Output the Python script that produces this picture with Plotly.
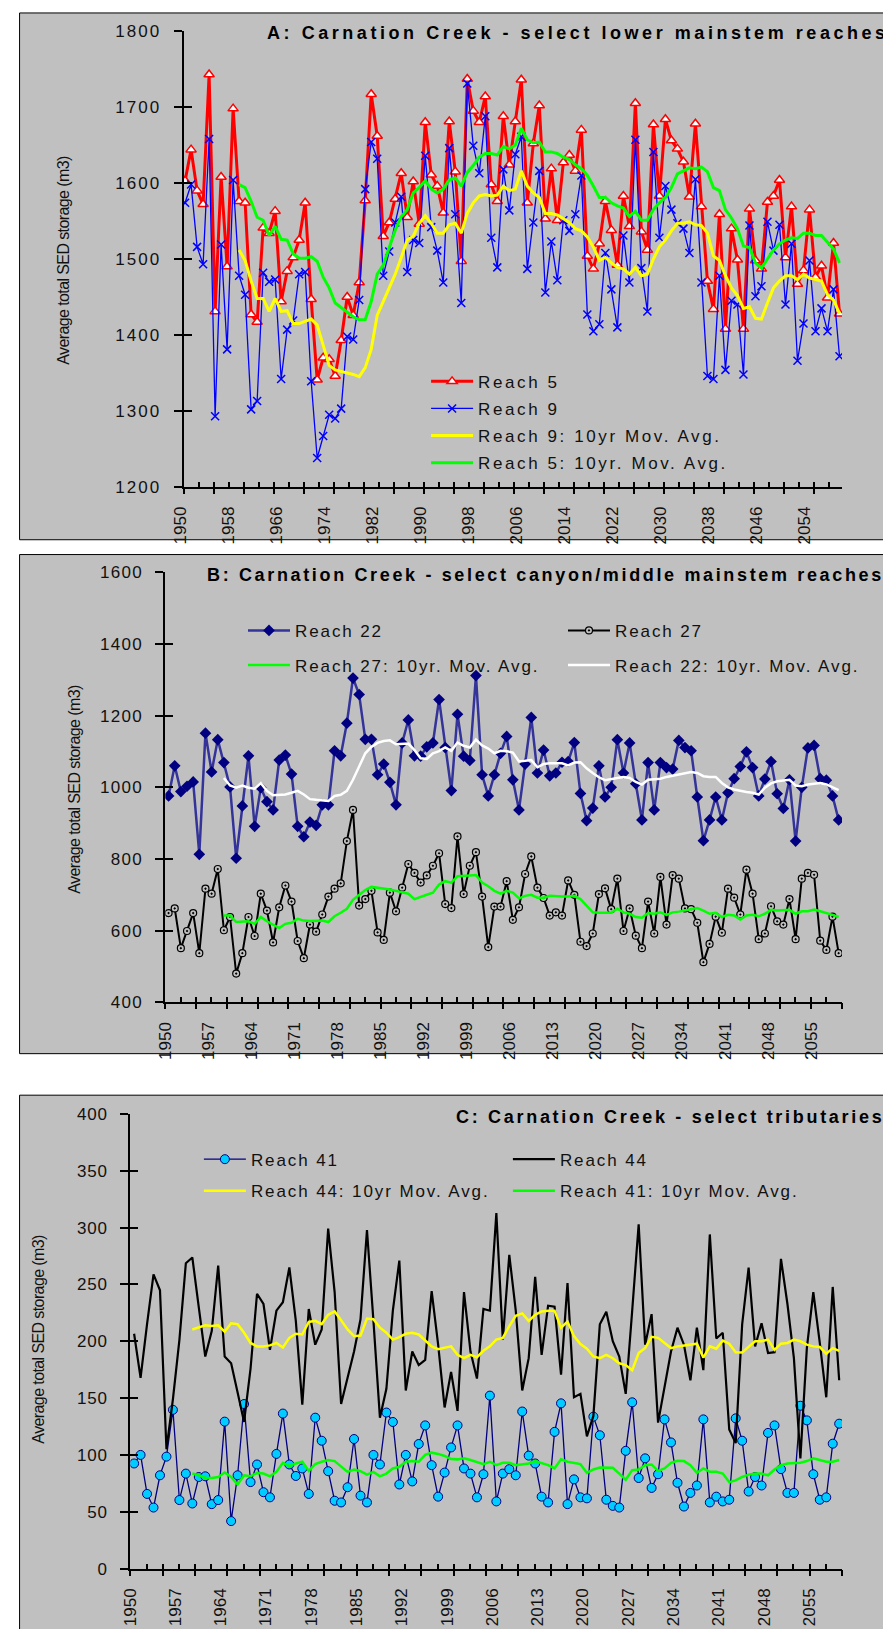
import plotly.graph_objects as go

W, H = 883, 1629

YEARS = list(range(1950, 2060))
MA_YEARS = list(range(1959, 2060))

# ---------------- Panel A ----------------
REACH5 = [1603, 1644, 1590, 1572, 1743, 1431, 1608, 1490, 1698, 1576,
          1574, 1427, 1417, 1541, 1534, 1563, 1444, 1484, 1502, 1525,
          1574, 1447, 1341, 1370, 1368, 1346, 1393, 1450, 1426, 1469,
          1577, 1717, 1662, 1530, 1548, 1579, 1613, 1555, 1602, 1546,
          1680, 1611, 1596, 1561, 1681, 1615, 1497, 1737, 1695, 1680,
          1714, 1598, 1576, 1688, 1624, 1681, 1736, 1574, 1652, 1702,
          1553, 1619, 1551, 1627, 1637, 1616, 1670, 1504, 1487, 1520,
          1576, 1538, 1492, 1583, 1543, 1705, 1536, 1512, 1677, 1583,
          1684, 1656, 1645, 1628, 1582, 1678, 1569, 1471, 1434, 1559,
          1408, 1540, 1499, 1408, 1566, 1498, 1487, 1575, 1583, 1604,
          1502, 1569, 1467, 1485, 1565, 1476, 1491, 1449, 1521, 1428]
REACH9 = [1574, 1598, 1516, 1493, 1658, 1293, 1519, 1381, 1604, 1478,
          1453, 1302, 1313, 1482, 1470, 1473, 1342, 1407, 1419, 1480,
          1483, 1339, 1238, 1267, 1295, 1290, 1303, 1398, 1394, 1446,
          1592, 1654, 1632, 1478, 1510, 1548, 1582, 1483, 1525, 1521,
          1636, 1542, 1511, 1469, 1646, 1559, 1442, 1731, 1649, 1613,
          1688, 1528, 1489, 1618, 1564, 1638, 1661, 1487, 1548, 1616,
          1456, 1523, 1472, 1551, 1537, 1559, 1610, 1427, 1405, 1414,
          1508, 1460, 1410, 1531, 1469, 1657, 1488, 1431, 1641, 1528,
          1596, 1565, 1547, 1540, 1508, 1605, 1469, 1346, 1342, 1478,
          1354, 1445, 1440, 1348, 1544, 1451, 1464, 1549, 1511, 1545,
          1440, 1520, 1366, 1415, 1498, 1405, 1435, 1405, 1460, 1372]
REACH5_MA = [1598, 1594, 1576, 1555, 1551, 1531, 1543, 1526, 1525, 1507, 1501,
             1501, 1503, 1497, 1476, 1462, 1442, 1436, 1431, 1424, 1420,
             1420, 1444, 1480, 1492, 1516, 1538, 1556, 1565, 1587, 1594,
             1603, 1592, 1587, 1592, 1604, 1607, 1596, 1614, 1623, 1634,
             1639, 1639, 1637, 1648, 1645, 1650, 1672, 1657, 1653, 1654,
             1641, 1641, 1639, 1634, 1631, 1624, 1619, 1610, 1596, 1581,
             1581, 1574, 1570, 1567, 1556, 1563, 1551, 1551, 1565, 1574,
             1581, 1594, 1612, 1616, 1620, 1619, 1621, 1615, 1594, 1590,
             1565, 1554, 1540, 1517, 1515, 1495, 1488, 1500, 1512, 1520,
             1525, 1528, 1527, 1534, 1534, 1531, 1531, 1522, 1513, 1495]
REACH9_MA = [1512, 1498, 1471, 1448, 1448, 1431, 1448, 1431, 1432, 1415, 1415,
             1418, 1421, 1413, 1388, 1360, 1354, 1352, 1351, 1348, 1345,
             1357, 1381, 1426, 1444, 1462, 1480, 1502, 1525, 1530, 1547,
             1557, 1547, 1534, 1534, 1545, 1547, 1534, 1560, 1574, 1583,
             1585, 1583, 1584, 1596, 1590, 1592, 1616, 1596, 1587, 1581,
             1560, 1560, 1558, 1553, 1548, 1540, 1537, 1529, 1516, 1498,
             1502, 1495, 1489, 1487, 1480, 1489, 1478, 1480, 1500, 1516,
             1525, 1537, 1547, 1547, 1549, 1545, 1544, 1534, 1504, 1498,
             1478, 1462, 1452, 1435, 1437, 1422, 1421, 1442, 1462, 1471,
             1478, 1478, 1473, 1480, 1475, 1473, 1471, 1453, 1446, 1428]

# ---------------- Panel B ----------------
REACH22 = [976, 1060, 988, 1003, 1015, 813, 1151, 1043, 1133, 1069,
           1001, 802, 948, 1088, 891, 999, 960, 937, 1076, 1090,
           1037, 891, 862, 903, 894, 951, 951, 1102, 1088, 1179,
           1305, 1259, 1134, 1134, 1035, 1065, 1014, 951, 1124, 1188,
           1088, 1087, 1113, 1124, 1245, 1111, 991, 1204, 1087, 1075,
           1312, 1035, 976, 1035, 1095, 1142, 1021, 937, 1065, 1195,
           1040, 1104, 1032, 1040, 1070, 1072, 1125, 983, 907, 942,
           1060, 973, 1000, 1133, 1040, 1124, 1010, 909, 1069, 937,
           1069, 1055, 1051, 1131, 1111, 1102, 973, 851, 909, 973,
           909, 985, 1024, 1058, 1099, 1055, 976, 1023, 1072, 982,
           941, 1021, 850, 1000, 1110, 1117, 1024, 1020, 976, 909]
REACH27 = [649, 662, 551, 599, 649, 537, 717, 703, 772, 601,
           638, 480, 537, 638, 585, 703, 656, 567, 665, 726,
           681, 571, 523, 617, 597, 645, 695, 717, 732, 850,
           937, 670, 688, 711, 595, 574, 706, 654, 720, 786,
           761, 734, 754, 781, 816, 674, 663, 863, 702, 781,
           819, 695, 554, 667, 667, 738, 630, 665, 758, 807,
           720, 691, 642, 651, 642, 740, 700, 569, 557, 592,
           702, 718, 660, 745, 599, 662, 586, 551, 681, 592,
           750, 617, 755, 745, 662, 660, 622, 512, 563, 639,
           594, 717, 692, 645, 770, 703, 576, 592, 668, 626,
           617, 688, 576, 745, 761, 756, 572, 546, 639, 537]
REACH27_MA = [642, 642, 624, 624, 626, 619, 638, 626, 617, 607, 619,
              622, 633, 628, 627, 628, 628, 624, 640, 650, 661,
              686, 699, 713, 722, 720, 718, 715, 711, 706, 703,
              688, 695, 700, 706, 729, 738, 734, 752, 752, 754,
              755, 734, 724, 711, 703, 711, 706, 690, 697, 700,
              692, 692, 697, 695, 695, 695, 697, 688, 670, 651,
              650, 650, 650, 661, 651, 647, 638, 636, 649, 647,
              651, 644, 651, 653, 656, 659, 663, 656, 647, 650,
              638, 644, 642, 631, 642, 644, 640, 647, 658, 656,
              658, 658, 647, 654, 654, 659, 654, 650, 644, 638]
REACH22_MA = [1026, 1005, 999, 1005, 999, 996, 1012, 990, 978, 979, 980,
              985, 990, 980, 967, 965, 964, 962, 976, 979, 990,
              1021, 1058, 1095, 1113, 1124, 1129, 1131, 1120, 1122, 1122,
              1104, 1081, 1079, 1095, 1101, 1111, 1102, 1125, 1116, 1111,
              1133, 1117, 1108, 1095, 1102, 1101, 1097, 1072, 1074, 1076,
              1056, 1065, 1067, 1067, 1067, 1061, 1069, 1070, 1053, 1040,
              1028, 1020, 1024, 1026, 1029, 1026, 1015, 1008, 1021, 1023,
              1024, 1029, 1033, 1037, 1040, 1043, 1040, 1031, 1029, 1029,
              1012, 1000, 994, 990, 987, 985, 980, 999, 1011, 1017,
              1019, 1021, 1005, 1003, 1008, 1010, 1012, 1008, 999, 992]

# ---------------- Panel C ----------------
REACH41 = [92.5, 100, 65.7, 53.7, 82.1, 98.5, 139.7, 60.3, 83.6, 57.3,
           80.6, 81.2, 56.7, 60.3, 129.3, 41.8, 82.1, 144.8, 76.1, 91.6,
           67.2, 62.7, 100.9, 136.4, 91.6, 81.5, 88.1, 65.7, 132.8, 112.5,
           85.7, 59.7, 58.2, 71.6, 114, 64.2, 58.2, 100, 91.6, 137.3,
           129, 74, 100, 76.7, 109.6, 126, 91, 63.3, 84.5, 106.6,
           126, 88.1, 83.6, 62.7, 83, 152.2, 59.1, 83.6, 87.5, 82.1,
           138.2, 99.4, 92.5, 63.3, 58.2, 120.3, 145.4, 56.7, 78.5, 62.7,
           61.8, 133.7, 117.3, 60.6, 55.2, 53.7, 103.6, 146.3, 79.7, 97,
           71, 83, 131.3, 111, 75.5, 54.6, 66.6, 73.1, 131.3, 58.2,
           63.3, 59.1, 60.6, 132.2, 112.5, 67.8, 80.6, 73.1, 119.4, 126,
           87.5, 66.6, 66.6, 143.3, 130.4, 83, 60.6, 62.7, 109.9, 127.5]
REACH44 = [206.6, 167.8, 215, 258.8, 244.8, 105, 149, 201, 268.7, 273.7,
           229.9, 186.6, 209, 266.6, 186.6, 180.6, 155, 129, 176, 241.8,
           232.8, 192.5, 226.9, 234.3, 265, 217.9, 144.2, 228.4, 197, 210.4,
           299.1, 243.3, 144.8, 167.2, 191, 219.4, 297.9, 217.9, 132.8, 158.2,
           226.9, 271, 156.7, 191, 179.1, 183.6, 244.2, 197, 141.8, 173.1,
           138.8, 243.3, 191, 167.2, 228.4, 226.9, 312.8, 201.5, 276.1, 226.9,
           156.7, 185.1, 256.7, 188.1, 231.3, 230.4, 170.7, 251.3, 150.7, 153.7,
           116.4, 134.3, 214.9, 226, 200, 186.6, 153.7, 226.9, 303, 197,
           223.9, 128.4, 158.2, 191, 211.9, 197, 165.7, 211.9, 174.6, 294,
           202.4, 207.5, 122.4, 110.4, 214.9, 264.8, 195.5, 215.8, 189.6, 190.4,
           272.5, 232.8, 185.1, 97, 194, 243.3, 198.5, 150.7, 247.8, 165.7]
REACH44_MA = [210.4, 212, 214, 213.4, 214, 208.4, 215.8, 215, 207.5, 198.5, 195.5,
              195.5, 196.4, 198.5, 194.6, 203, 206.6, 206, 217, 218, 215,
              223.3, 226.3, 218.5, 210.4, 204.5, 205, 220, 219.4, 212, 207.5,
              201.5, 203.6, 206.6, 207.5, 206, 201, 195.5, 193.1, 194, 195.5,
              188.1, 185.1, 188.1, 186, 191.6, 195.5, 201.5, 203, 213.4, 222.4,
              224.5, 217.9, 223.3, 226.3, 226.9, 226.9, 211.9, 217.3, 204.5, 197.6,
              193.4, 186.6, 185.1, 188.1, 185.1, 180.6, 179.1, 174.6, 189.6, 194,
              203.9, 203, 198.5, 194, 195.5, 196.1, 197, 197.9, 185.7, 195.5,
              193.4, 200.6, 197.9, 190.4, 190.1, 195.5, 200, 200, 201.5, 192.5,
              197.9, 198.5, 201.5, 200, 197, 195.5, 194.9, 189, 194, 191.6]
REACH41_MA = [83.6, 82.1, 79.7, 79.7, 80.6, 84.5, 80.6, 74, 82.1, 81.2, 84.2,
              83.6, 81.2, 85.1, 93.1, 90.1, 92.5, 94, 86, 91.9, 94,
              95.5, 94.6, 90.1, 85.1, 87.2, 85.7, 82.7, 85.1, 81.2, 83.6,
              88.1, 89.6, 94, 94.6, 94, 100, 102, 100.9, 99.1, 96.4,
              96.1, 97, 95.5, 94, 91.9, 94, 91, 93.1, 93.1, 91,
              91.9, 92.5, 94.6, 93.1, 91, 88.1, 96.1, 94, 93.1, 91.9,
              84.2, 87.2, 89, 89, 88.7, 83.6, 78.2, 86.6, 87.2, 91,
              91.6, 86, 88.1, 93.1, 94.9, 94.6, 91, 84.2, 88.1, 85.1,
              85.1, 83.6, 76.1, 77.6, 80.6, 82.7, 83.6, 83.6, 82.1, 87.2,
              91, 92.5, 92.5, 93.1, 94.6, 97, 95.5, 94, 94, 95.5]

# tick labels
A_XLABELS = list(range(1950, 2060, 8))
B_XLABELS = list(range(1950, 2060, 7))
C_XLABELS = list(range(1950, 2060, 7))
A_YTICKS = list(range(1200, 1801, 100))
B_YTICKS = list(range(400, 1601, 200))
C_YTICKS = list(range(0, 401, 50))

TITLES = ["A: Carnation Creek - select lower mainstem reaches",
          "B: Carnation Creek - select canyon/middle mainstem reaches",
          "C: Carnation Creek - select tributaries"]
YTITLE = "Average total SED storage (m3)"

FONT = "Liberation Sans, Arial, Helvetica, sans-serif"
NARROW = "Liberation Sans Narrow, Arial Narrow, Liberation Sans, Arial, sans-serif"
GREY = "#C0C0C0"


def px(xp):
    return xp / W


def py(yp):
    return 1 - yp / H


# layout geometry per panel (pixels)
PANELS = [
    dict(ax=181.7, top=22.4, bot=483.5, x0=1949.75, ppy=6.395, yr=(1200, 1800),
         yt=A_YTICKS, xl=A_XLABELS, lshift=-5, box=(4, 537), title_x=268, title_y=24,
         yt_x=53, yt_y=255),
    dict(ax=162.3, top=570.0, bot=1005.0, x0=1949.48, ppy=6.548, yr=(400, 1600),
         yt=B_YTICKS, xl=B_XLABELS, lshift=-3, box=(552, 1057), title_x=205, title_y=573,
         yt_x=66, yt_y=790),
    dict(ax=125.0, top=1118.0, bot=1578.0, x0=1949.42, ppy=6.89, yr=(0, 400),
         yt=C_YTICKS, xl=C_XLABELS, lshift=-4, box=(1099, 1700), title_x=470, title_y=1121,
         yt_x=27, yt_y=1346),
]

fig = go.Figure()

# ---- traces, panel A
fig.add_trace(go.Scatter(x=YEARS, y=REACH5, name="Reach 5", mode="lines+markers",
                         line=dict(color="#FF0000", width=3),
                         marker=dict(symbol="triangle-up", size=9, color="white",
                                     line=dict(color="#FF0000", width=1.5)),
                         xaxis="x", yaxis="y", legend="legend", legendgroup="a1"))
fig.add_trace(go.Scatter(x=YEARS, y=REACH9, name="Reach 9", mode="lines+markers",
                         line=dict(color="#0000FF", width=1.3),
                         marker=dict(symbol="x-thin", size=8, color="#0000FF",
                                     line=dict(color="#0000FF", width=1.5)),
                         xaxis="x", yaxis="y", legend="legend", legendgroup="a2"))
fig.add_trace(go.Scatter(x=MA_YEARS, y=REACH9_MA, name="Reach 9: 10yr Mov. Avg.", mode="lines",
                         line=dict(color="#FFFF00", width=3), xaxis="x", yaxis="y",
                         legend="legend", legendgroup="a3"))
fig.add_trace(go.Scatter(x=MA_YEARS, y=REACH5_MA, name="Reach 5: 10yr. Mov. Avg.", mode="lines",
                         line=dict(color="#00FF00", width=3), xaxis="x", yaxis="y",
                         legend="legend", legendgroup="a4"))

# ---- traces, panel B
fig.add_trace(go.Scatter(x=YEARS, y=REACH22, name="Reach 22", mode="lines+markers",
                         line=dict(color="#333399", width=2.5),
                         marker=dict(symbol="diamond", size=9, color="#000080"),
                         xaxis="x2", yaxis="y2", legend="legend2"))
fig.add_trace(go.Scatter(x=YEARS, y=REACH27, name="Reach 27", mode="lines+markers",
                         line=dict(color="#000000", width=2),
                         marker=dict(symbol="circle-dot", size=7, color=GREY,
                                     line=dict(color="#000000", width=1.2)),
                         xaxis="x2", yaxis="y2", legend="legend2"))
fig.add_trace(go.Scatter(x=MA_YEARS, y=REACH27_MA, name="Reach 27: 10yr. Mov. Avg.", mode="lines",
                         line=dict(color="#00FF00", width=2.5), xaxis="x2", yaxis="y2", legend="legend4"))
fig.add_trace(go.Scatter(x=MA_YEARS, y=REACH22_MA, name="Reach 22: 10yr. Mov. Avg.", mode="lines",
                         line=dict(color="#FFFFFF", width=2.5), xaxis="x2", yaxis="y2", legend="legend4"))

# ---- traces, panel C
fig.add_trace(go.Scatter(x=YEARS, y=REACH41, name="Reach 41", mode="lines+markers",
                         line=dict(color="#000080", width=1.3),
                         marker=dict(symbol="circle", size=9, color="#00CCFF",
                                     line=dict(color="#000080", width=1)),
                         xaxis="x3", yaxis="y3", legend="legend3"))
fig.add_trace(go.Scatter(x=YEARS, y=REACH44, name="Reach 44", mode="lines",
                         line=dict(color="#000000", width=2.2),
                         xaxis="x3", yaxis="y3", legend="legend3"))
fig.add_trace(go.Scatter(x=MA_YEARS, y=REACH44_MA, name="Reach 44: 10yr Mov. Avg.", mode="lines",
                         line=dict(color="#FFFF00", width=2.5), xaxis="x3", yaxis="y3", legend="legend5"))
fig.add_trace(go.Scatter(x=MA_YEARS, y=REACH41_MA, name="Reach 41: 10yr Mov. Avg.", mode="lines",
                         line=dict(color="#00FF00", width=2.5), xaxis="x3", yaxis="y3", legend="legend5"))

layout = dict(width=W, height=H, margin=dict(l=0, r=0, t=0, b=0),
              paper_bgcolor="white", plot_bgcolor="rgba(0,0,0,0)",
              font=dict(family=FONT, color="#000000"), showlegend=True,
              shapes=[], annotations=[])

for i, p in enumerate(PANELS):
    n = i + 1
    sx = "" if n == 1 else str(n)
    xr = [p["x0"], p["x0"] + (W - p["ax"]) / p["ppy"]]
    dom_x = [px(p["ax"]), 1]
    dom_y = [py(p["bot"]), py(p["top"])]
    major = [p["x0"] + 5 * k for k in range(24)]
    minor = [p["x0"] + 2.5 * k for k in range(48)]
    layout["xaxis" + sx] = dict(domain=dom_x, anchor="y" + sx, range=xr,
                                tickvals=p["xl"], ticktext=[str(v) for v in p["xl"]],
                                ticklabelshift=p["lshift"], ticklabelstandoff=11,
                                tickangle=-90, ticks="", showline=True, linecolor="black",
                                linewidth=2, showgrid=False, zeroline=False,
                                tickfont=dict(size=17, family=FONT, color="#111"))
    layout["yaxis" + sx] = dict(domain=dom_y, anchor="x" + sx, range=list(p["yr"]),
                                tickvals=p["yt"], ticks="outside", ticklen=8, tickwidth=2,
                                tickcolor="black", showline=True, linecolor="black", linewidth=2,
                                showgrid=False, zeroline=False, ticklabelstandoff=9,
                                tickfont=dict(size=17, family=FONT, color="#111"))
    # overlay axes providing the crossing tick marks
    ox1, ox2, oy = str(n + 3), str(n + 6), str(n + 3)
    layout["xaxis" + ox1] = dict(overlaying="x" + sx, anchor="y" + sx, range=xr, tickvals=major,
                                 ticks="outside", ticklen=6, tickwidth=2, tickcolor="black",
                                 showticklabels=False, showline=False, showgrid=False, zeroline=False)
    layout["xaxis" + ox2] = dict(overlaying="x" + sx, anchor="y" + sx, range=xr, tickvals=minor,
                                 ticks="inside", ticklen=5, tickwidth=2, tickcolor="black",
                                 showticklabels=False, showline=False, showgrid=False, zeroline=False)
    layout["yaxis" + oy] = dict(overlaying="y" + sx, anchor="x" + sx, range=list(p["yr"]),
                                tickvals=p["yt"], ticks="inside", ticklen=8, tickwidth=2,
                                tickcolor="black", showticklabels=False, showline=False,
                                showgrid=False, zeroline=False)
    fig.add_trace(go.Scatter(x=[], y=[], xaxis="x" + ox1, yaxis="y" + sx, showlegend=False, hoverinfo="skip"))
    fig.add_trace(go.Scatter(x=[], y=[], xaxis="x" + ox2, yaxis="y" + sx, showlegend=False, hoverinfo="skip"))
    fig.add_trace(go.Scatter(x=[], y=[], xaxis="x" + sx, yaxis="y" + oy, showlegend=False, hoverinfo="skip"))

    # panel background box
    layout["shapes"].append(dict(type="rect", xref="paper", yref="paper", layer="below",
                                 x0=px(7), x1=px(1000), y0=py(p["box"][1]), y1=py(p["box"][0]),
                                 fillcolor=GREY, line=dict(color="#000000", width=1)))
    # title
    layout["annotations"].append(dict(text=TITLES[i], xref="paper", yref="paper",
                                      x=px(p["title_x"]), y=py(p["title_y"]), xanchor="left",
                                      yanchor="middle", align="left", showarrow=False,
                                      font=dict(family=FONT, size=18, weight="bold", color="#000")))
    # y-axis title
    layout["annotations"].append(dict(text=YTITLE, xref="paper", yref="paper",
                                      x=px(p["yt_x"]), y=py(p["yt_y"]), xanchor="center",
                                      yanchor="middle", textangle=-90, showarrow=False,
                                      font=dict(family=NARROW, size=16, color="#111")))

LEG = dict(bgcolor="rgba(0,0,0,0)", borderwidth=0, font=dict(family=FONT, size=17, color="#111"),
           itemwidth=42, xanchor="left", yanchor="top")
layout["legend"] = dict(LEG, x=px(440), y=py(359), orientation="v", tracegroupgap=2)
layout["legend2"] = dict(LEG, x=px(245), y=py(611), orientation="h", entrywidth=263, entrywidthmode="pixels")
layout["legend4"] = dict(LEG, x=px(245), y=py(646), orientation="h", entrywidth=263, entrywidthmode="pixels")
layout["legend3"] = dict(LEG, x=px(198), y=py(1146), orientation="h", entrywidth=252, entrywidthmode="pixels")
layout["legend5"] = dict(LEG, x=px(198), y=py(1178), orientation="h", entrywidth=252, entrywidthmode="pixels")

fig.update_layout(**layout)

POST = """
(function(){
  document.documentElement.style.margin = '0';
  document.body.style.margin = '0';
  document.body.style.padding = '0';
  function ls(sel, v){ document.querySelectorAll(sel).forEach(function(e){ e.style.letterSpacing = v; }); }
  function apply(){
    ls('.legendtext', '2.6px');
    ls('.legend2text, .legend3text, .legend4text, .legend5text', '1.9px');
    ls('.ytick text', '2px');
    ls('.y2tick text', '1.3px');
    ls('.y3tick text', '0.9px');
    document.querySelectorAll('.annotation-text').forEach(function(e){
      var t = e.textContent;
      if (t.indexOf('A:') === 0) e.style.letterSpacing = '3.55px';
      else if (t.indexOf('B:') === 0) e.style.letterSpacing = '2.65px';
      else if (t.indexOf('C:') === 0) e.style.letterSpacing = '2.7px';
      else if (t.indexOf('Average') === 0) e.style.letterSpacing = '-0.6px';
    });
    document.querySelectorAll('.scrollbox').forEach(function(e){ e.removeAttribute('clip-path'); });
  }
  apply();
  var gd = document.querySelector('.plotly-graph-div');
  if (gd && gd.on) { gd.on('plotly_afterplot', apply); }
  setTimeout(apply, 30); setTimeout(apply, 300); setTimeout(apply, 1000);
})();
"""

fig.write_html("out.html", config={"displayModeBar": False}, post_script=POST)
